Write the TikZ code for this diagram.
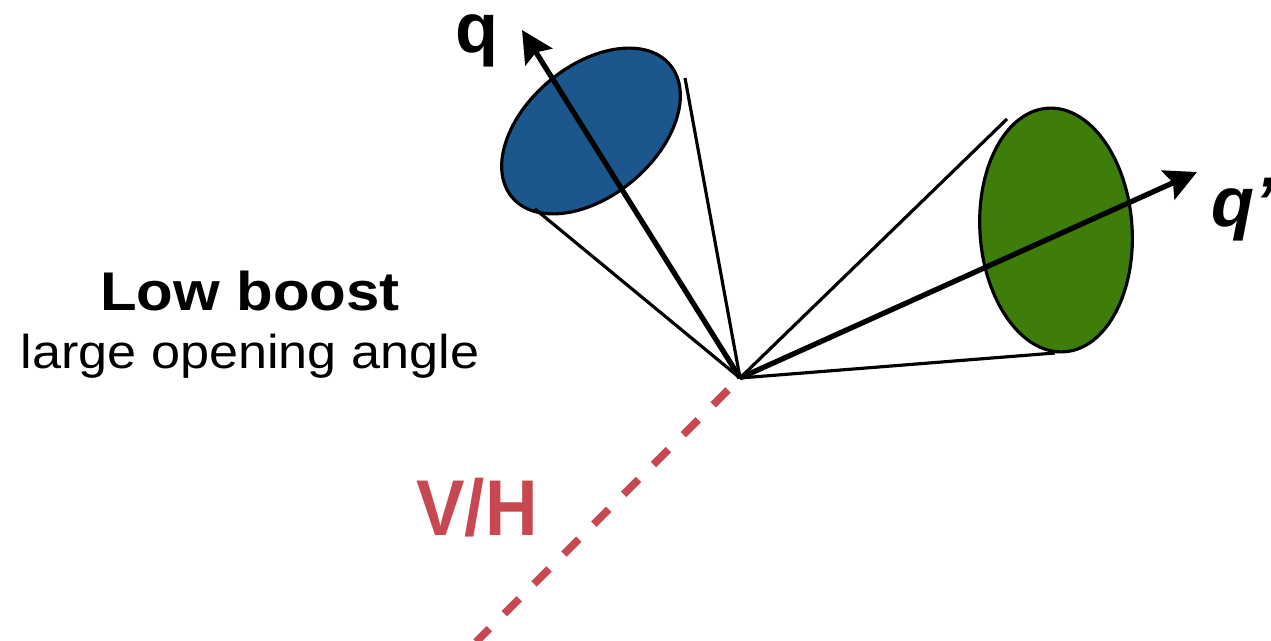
\documentclass[tikz,border=0pt]{standalone}
\usepackage{graphicx}
\usepackage{fontspec}
\setmainfont{Liberation Sans}
\usetikzlibrary{arrows.meta,shapes.geometric}
\definecolor{jetblue}{RGB}{27,86,140}
\definecolor{jetgreen}{RGB}{62,125,10}
\definecolor{bosred}{RGB}{200,72,82}
\tikzstyle{jcap}=[ellipse,draw=black,line width=0.9pt,inner sep=0pt]
\tikzstyle{cone}=[line width=0.9pt]
\tikzstyle{parton}=[-{Stealth[length=9pt,width=9pt,inset=1.5pt]}, line width=1.5pt]
\tikzstyle{boson}=[bosred, line width=2.2pt, dash pattern=on 6pt off 6pt, dash phase=7.2pt]

\begin{document}
\begin{tikzpicture}[x=0.01cm,y=-0.01cm]
\useasboundingbox (0,0) rectangle (1271,640);
\coordinate (V) at (740,378);
\coordinate (Vend) at (476,642);
\node[jcap,fill=jetblue,minimum width=2.06cm,minimum height=1.3cm,rotate=40] (qjet) at (591,131) {};
\node[jcap,fill=jetgreen,minimum width=1.52cm,minimum height=2.44cm,rotate=4] (qpjet) at (1056,230) {};
\coordinate (qrimA) at (685,78); \coordinate (qrimB) at (535,209);
\coordinate (qprimA) at (1007,119); \coordinate (qprimB) at (1055,353);
\coordinate (qtip) at (522,30); \coordinate (qptip) at (1197,172);
\draw[boson] (V)--(Vend);
\draw[cone](V)--(qrimA);\draw[cone](V)--(qrimB);\draw[cone](V)--(qprimA);\draw[cone](V)--(qprimB);
\draw[parton] (V)--(qtip); \draw[parton] (V)--(qptip);
\node[anchor=base,font=\bfseries\fontsize{20}{24}\selectfont] (qlab) at (477,53) {q};
\node[anchor=base west,font=\bfseries\itshape\fontsize{20}{24}\selectfont] (qplab) at (1199,227) {q’};
\node[anchor=base,font=\bfseries\fontsize{15.5}{18}\selectfont] (boost) at (250,310) {\scalebox{1.1}[1]{Low boost}};
\node[anchor=base,font=\fontsize{13.5}{16}\selectfont] (angle) at (250,368) {\scalebox{1.1}[1]{large opening angle}};
\node[anchor=base,text=bosred,font=\bfseries\fontsize{22.5}{27}\selectfont] (vh) at (477,535) {\scalebox{0.92}[1]{V/H}};
\end{tikzpicture}
\end{document}
